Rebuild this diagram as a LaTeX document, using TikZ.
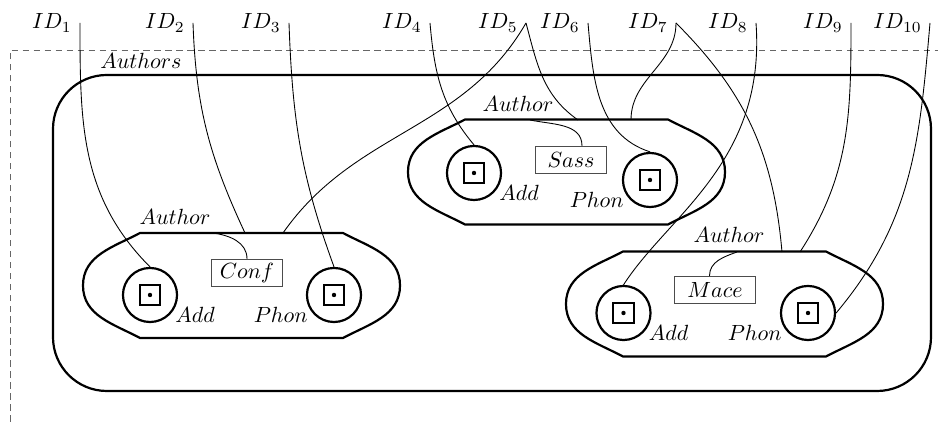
\documentclass[tikz,border=0pt]{standalone}
\usepackage{amsmath}
\usepackage{amssymb}
\usepackage{tikz}
\usetikzlibrary{positioning}

\tikzset{
    grp/.style={line width=1pt},
    port/.style={circle, draw, line width=1pt, minimum size=24.6pt, inner sep=0pt},
    portsq/.style={draw, line width=0.9pt, minimum size=9.5pt, inner sep=0pt},
    portdot/.style={circle, fill, minimum size=2pt, inner sep=0pt},
    namebox/.style={draw=black!70, thin, minimum width=32.5pt, minimum height=12.5pt, inner sep=1pt},
    lab/.style={inner sep=1pt},
    wire/.style={thin},
}

\begin{document}
\begin{tikzpicture}[x=0.455pt, y=0.455pt]
    \useasboundingbox (0,0) rectangle (938,422);
    \draw[dashed, black!60, dash pattern=on 3pt off 2pt] (10,0)--(10,372)--(938,372);
    \draw[grp, rounded corners=24.5pt] (53,31) rectangle (931,347);
    \node[lab] (authors) at (141,361) {$Authors$};

    \foreach \gx/\gy in {241.5/136.5, 566.5/250, 724.5/118}
        \draw[grp, shift={(\gx,\gy)}] (-101.5,52.5)--(101.5,52.5) to[out=-28,in=90] (158.5,0)
            to[out=-90,in=28] (101.5,-52.5)--(-101.5,-52.5) to[out=152,in=-90] (-158.5,0)
            to[out=90,in=-152] (-101.5,52.5)--cycle;

    \node[port] (add1) at (150,127) {};
    \node[port] (phon1) at (334,127) {};
    \node[port] (add2) at (474,249) {};
    \node[port] (phon2) at (650,242) {};
    \node[port] (add3) at (623.5,109) {};
    \node[port] (phon3) at (808,109) {};
    \foreach \p in {add1,phon1,add2,phon2,add3,phon3} {
        \node[portsq] at (\p) {};
        \node[portdot] at (\p) {};
    }

    \node[lab, below right=-4.7pt and 1.3pt of add1] (addl1) {$Add$};
    \node[lab, below left=-4.7pt and 1.8pt of phon1] (phonl1) {$Phon$};
    \node[lab, below right=-4.7pt and 1.3pt of add2] (addl2) {$Add$};
    \node[lab, below left=-4.7pt and 1.8pt of phon2] (phonl2) {$Phon$};
    \node[lab, below right=-4.7pt and 1.3pt of add3] (addl3) {$Add$};
    \node[lab, below left=-4.7pt and 1.8pt of phon3] (phonl3) {$Phon$};

    \node[namebox] (conf) at (247,149) {$Conf$};
    \node[namebox] (sass) at (571,262) {$Sass$};
    \node[namebox, minimum width=37pt] (mace) at (715,132) {$Mace$};

    \node[lab] (auth1) at (175,205) {$Author$};
    \node[lab] (auth2) at (518,318) {$Author$};
    \node[lab] (auth3) at (729,187) {$Author$};

    \coordinate (g1a) at (213,189);
    \coordinate (g1b) at (245,189);
    \coordinate (g1c) at (283,189);
    \coordinate (g2a) at (530,302);
    \coordinate (g2b) at (578,302);
    \coordinate (g2c) at (631,302);
    \coordinate (g3a) at (737,170);
    \coordinate (g3b) at (782,170);
    \coordinate (g3c) at (800,170);

    \draw[wire] (g1a) to[out=-8,in=90] (conf.north);
    \draw[wire] (g2a) to[out=-12,in=90] ([xshift=5pt]sass.north);
    \draw[wire] (g3a) to[out=200,in=90] ([xshift=-2.5pt]mace.north);

    \foreach \i/\x in {1/80, 2/193, 3/289, 4/430, 5/526, 6/588, 7/676, 8/756, 9/851, 10/930} {
        \coordinate (t\i) at (\x,399);
        \node[lab, left=2.6pt of t\i] (id\i) {$ID_{\i}$};
    }

    \draw[wire] (t1) to[out=-90,in=135] (add1.north);
    \draw[wire] (t2) to[out=-88,in=115] (g1b);
    \draw[wire] (t3) to[out=-88,in=110] (phon1.north);
    \draw[wire] (t4) to[out=-85,in=130] (add2.north);
    \draw[wire] (t5) to[out=-120,in=55] (g1c);
    \draw[wire] (t5) to[out=-75,in=145] (g2b);
    \draw[wire] (t6) to[out=-85,in=162] (phon2.north);
    \draw[wire] (t7) to[out=-90,in=90] (g2c);
    \draw[wire] (t7) to[out=-45,in=95] (g3b);
    \draw[wire] (t8) .. controls +(10,-139) and +(45,70) .. (add3.north);
    \draw[wire] (t9) to[out=-90,in=57] (g3c);
    \draw[wire] (t10) to[out=-95,in=50] (phon3.east);
\end{tikzpicture}
\end{document}
